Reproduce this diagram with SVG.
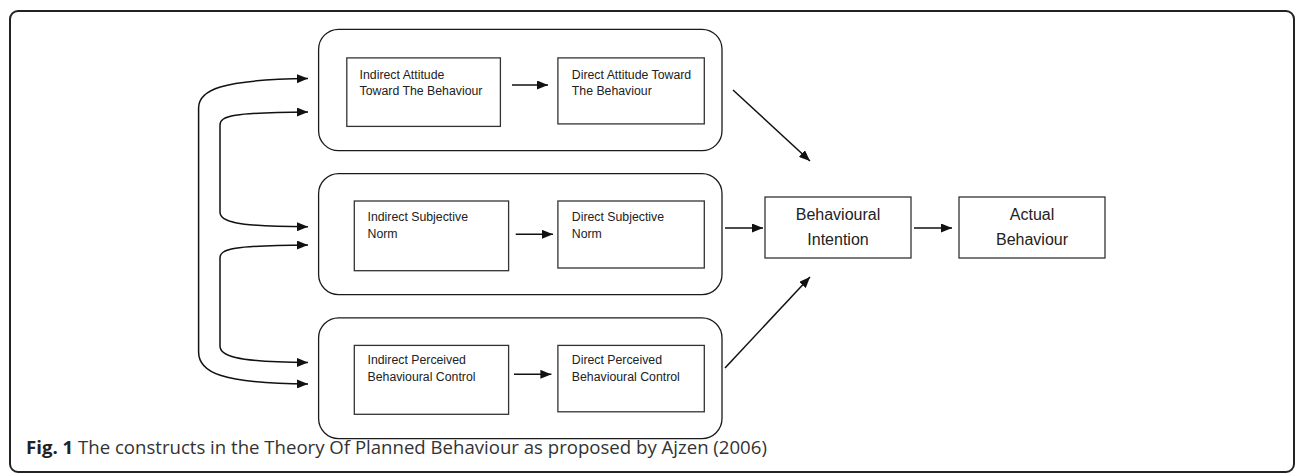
<svg xmlns="http://www.w3.org/2000/svg" width="1296" height="474" viewBox="0 0 1296 474">
<style>
.frame{fill:#fff;stroke:#222;stroke-width:2}
.grp{fill:#fff;stroke:#1a1a1a;stroke-width:1.3}
.box{fill:#fff;stroke:#333;stroke-width:1.3}
.sm{font-family:"Liberation Sans",Arial,sans-serif;font-size:12.3px;fill:#222}
.lg{font-family:"Liberation Sans",Arial,sans-serif;font-size:16px;fill:#222;text-anchor:middle}
.cap{font-family:"Open Sans","Liberation Sans",Arial,sans-serif;font-size:18.6px;fill:#333}
.con{fill:none;stroke:#111;stroke-width:1.5}
</style>
<defs>
<marker id="ah" markerUnits="userSpaceOnUse" markerWidth="11" markerHeight="9" viewBox="0 0 11 9" refX="11" refY="4.5" orient="auto-start-reverse">
<path d="M0,0 L11,4.5 L0,9 z" fill="#111"/>
</marker>
</defs>
<rect class="frame" x="10" y="11" width="1284" height="461" rx="8"/>

<g id="group-attitude">
<rect class="grp" x="318.6" y="29.3" width="403.4" height="121.4" rx="20"/>
</g>
<g id="indirect-attitude">
<rect class="box" x="346.8" y="57.9" width="153.6" height="68.5"/>
<text class="sm" x="359.6" y="78.6">Indirect Attitude</text>
<text class="sm" x="359.6" y="94.6">Toward The Behaviour</text>
</g>
<g id="direct-attitude">
<rect class="box" x="557.9" y="57.9" width="146.4" height="66"/>
<text class="sm" x="571.8" y="78.6">Direct Attitude Toward</text>
<text class="sm" x="571.8" y="94.6">The Behaviour</text>
</g>

<g id="group-norm">
<rect class="grp" x="318.6" y="173.6" width="403.4" height="121" rx="20"/>
</g>
<g id="indirect-norm">
<rect class="box" x="354.3" y="201" width="154.3" height="69.7"/>
<text class="sm" x="367.5" y="221.4">Indirect Subjective</text>
<text class="sm" x="367.5" y="237.9">Norm</text>
</g>
<g id="direct-norm">
<rect class="box" x="557.9" y="201" width="146.4" height="67"/>
<text class="sm" x="571.8" y="221.4">Direct Subjective</text>
<text class="sm" x="571.8" y="237.9">Norm</text>
</g>

<g id="group-control">
<rect class="grp" x="318.6" y="317.9" width="403.4" height="120.7" rx="20"/>
</g>
<g id="indirect-control">
<rect class="box" x="354.3" y="345.4" width="154.3" height="68.9"/>
<text class="sm" x="367.5" y="364.3">Indirect Perceived</text>
<text class="sm" x="367.5" y="381.4">Behavioural Control</text>
</g>
<g id="direct-control">
<rect class="box" x="557.9" y="345.4" width="146.4" height="66.4"/>
<text class="sm" x="571.8" y="364.3">Direct Perceived</text>
<text class="sm" x="571.8" y="381.4">Behavioural Control</text>
</g>

<g id="intention">
<rect class="box" x="765" y="197" width="146" height="61"/>
<text class="lg" x="838" y="220">Behavioural</text>
<text class="lg" x="838" y="245">Intention</text>
</g>
<g id="behaviour">
<rect class="box" x="959" y="197" width="146" height="61"/>
<text class="lg" x="1032" y="220">Actual</text>
<text class="lg" x="1032" y="245">Behaviour</text>
</g>

<g id="connectors">
<path class="con" marker-start="url(#ah)" marker-end="url(#ah)" d="M308 78.6 C220 79.6 198.6 90 198.6 108 L198.6 352 C198.6 372 220 383.5 308 384"/>
<path class="con" marker-start="url(#ah)" marker-end="url(#ah)" d="M308 112 C232 112.5 220 116 220 125 L220 212 C220 221 232 226.5 308 226.8"/>
<path class="con" marker-start="url(#ah)" marker-end="url(#ah)" d="M308 245 C232 245.5 220 249 220 258 L220 346 C220 355 232 362 308 362.5"/>
<path class="con" marker-end="url(#ah)" d="M512 85 L548 85"/>
<path class="con" marker-end="url(#ah)" d="M515.7 234.3 L553 234.3"/>
<path class="con" marker-end="url(#ah)" d="M514 374.3 L551.4 374.3"/>
<path class="con" marker-end="url(#ah)" d="M733 90 L810 161"/>
<path class="con" marker-end="url(#ah)" d="M725 228 L763 228"/>
<path class="con" marker-end="url(#ah)" d="M725 368 L810 277"/>
<path class="con" marker-end="url(#ah)" d="M914 228 L952 228"/>
</g>

<text class="cap" x="26" y="454.3"><tspan font-weight="bold" fill="#222">Fig. 1</tspan> The constructs in the Theory Of Planned Behaviour as proposed by Ajzen (2006)</text>
</svg>
